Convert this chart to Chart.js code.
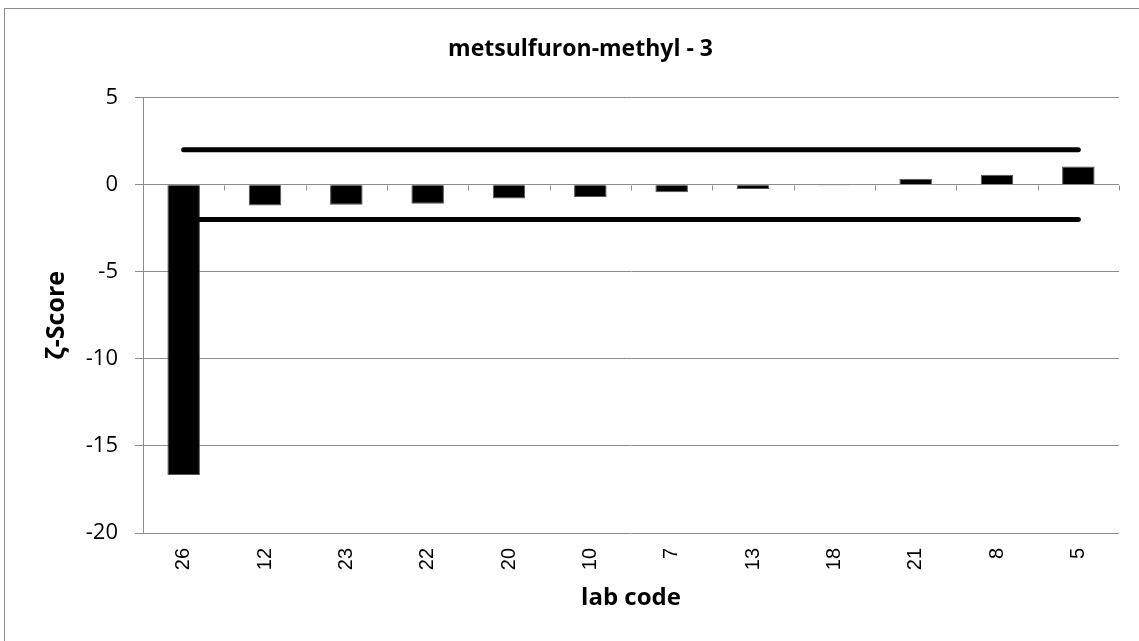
<!DOCTYPE html>
<html>
<head>
<meta charset="utf-8">
<script src="https://cdn.jsdelivr.net/npm/chart.js@4"></script>
<style>
  html, body { margin: 0; padding: 0; background: #fff; }
  #wrap { width: 1139px; height: 641px; }
</style>
</head>
<body>
<div id="wrap"><canvas id="chart" width="1139" height="641"></canvas></div>
<script>
// lab codes and zeta scores
const labCodes = ["26", "12", "23", "22", "20", "10", "7", "13", "18", "21", "8", "5"];
const zetaScores = [-16.67, -1.19, -1.15, -1.09, -0.8, -0.71, -0.44, -0.25, -0.02, 0.34, 0.57, 1.05];
const upperLimit = [2, 2, 2, 2, 2, 2, 2, 2, 2, 2, 2, 2];
const lowerLimit = [-2, -2, -2, -2, -2, -2, -2, -2, -2, -2, -2, -2];
const yTicks = [5, 0, -5, -10, -15, -20];

// frame round the chart (right/bottom edges fall outside the picture)
const framePlugin = {
  id: "frame",
  beforeDraw(chart) {
    const ctx = chart.ctx;
    ctx.save();
    ctx.fillStyle = "#fff";
    ctx.fillRect(0, 0, chart.width, chart.height);
    ctx.strokeStyle = "#8c8c8c";
    ctx.lineWidth = 1;
    ctx.strokeRect(4.5, 8.5, chart.width + 20, chart.height + 20);
    ctx.restore();
  },
};

// small category tick marks along the zero line, like the spreadsheet axis
const zeroAxisPlugin = {
  id: "zeroAxis",
  afterDatasetsDraw(chart) {
    const { ctx, scales } = chart;
    const x = scales.x, y = scales.y;
    const y0 = Math.round(y.getPixelForValue(0)) + 0.5;
    ctx.save();
    ctx.strokeStyle = "#8c8c8c";
    ctx.lineWidth = 1;
    for (let i = 0; i <= labCodes.length; i++) {
      const px = Math.round(x.left + (x.width * i) / labCodes.length) + 0.5;
      ctx.beginPath();
      ctx.moveTo(px, y0);
      ctx.lineTo(px, y0 + 5);
      ctx.stroke();
    }
    ctx.restore();
  },
};

new Chart(document.getElementById("chart").getContext("2d"), {
  type: "bar",
  data: {
    labels: labCodes,
    datasets: [
      {
        type: "line",
        data: upperLimit,
        borderColor: "#000",
        borderWidth: 5,
        borderCapStyle: "round",
        pointRadius: 0,
        order: 0,
      },
      {
        type: "line",
        data: lowerLimit,
        borderColor: "#000",
        borderWidth: 5,
        borderCapStyle: "round",
        pointRadius: 0,
        order: 0,
      },
      {
        data: zetaScores,
        backgroundColor: "#000",
        borderColor: "#555",
        borderWidth: 1,
        barPercentage: 0.4,
        categoryPercentage: 1,
        order: 1,
      },
    ],
  },
  options: {
    responsive: false,
    animation: false,
    layout: { padding: { top: 10, left: 42, right: 20, bottom: 28 } },
    plugins: {
      legend: { display: false },
      tooltip: { enabled: false },
      title: {
        display: true,
        text: "metsulfuron-methyl - 3",
        color: "#000",
        font: { family: "Open Sans", size: 23, weight: "bold" },
        padding: { top: 26, bottom: 34 },
      },
    },
    scales: {
      x: {
        grid: { display: false, drawTicks: false },
        border: { display: false },
        ticks: {
          color: "#000",
          font: { family: "Liberation Sans", size: 20 },
          maxRotation: 90,
          minRotation: 90,
          padding: 15,
        },
        title: {
          display: true,
          text: "lab code",
          color: "#000",
          font: { family: "Open Sans", size: 24, weight: "bold" },
          padding: 0,
        },
        afterFit(scale) { scale.height = 80; },
      },
      y: {
        min: -20,
        max: 5,
        afterBuildTicks(scale) {
          scale.ticks = yTicks.map((v) => ({ value: v }));
        },
        grid: { color: "#8c8c8c", tickLength: 8, tickColor: "#8c8c8c" },
        border: { color: "#8c8c8c" },
        ticks: {
          color: "#000",
          font: { family: "Open Sans", size: 22 },
          padding: 17,
        },
        title: {
          display: true,
          text: "ζ-Score",
          color: "#000",
          font: { family: "Open Sans", size: 25, weight: "bold" },
          padding: 0,
        },
        afterFit(scale) { scale.width = 101; },
      },
    },
  },
  plugins: [framePlugin, zeroAxisPlugin],
});
</script>
</body>
</html>
